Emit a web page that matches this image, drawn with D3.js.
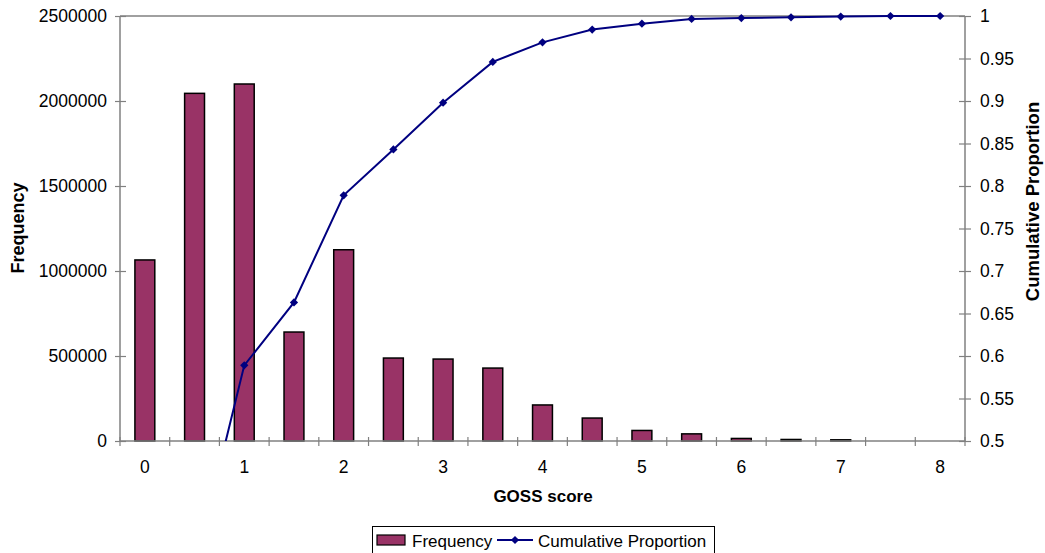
<!DOCTYPE html>
<html>
<head>
<meta charset="utf-8">
<script src="https://cdn.jsdelivr.net/npm/d3@7/dist/d3.min.js"></script>
<style>
  html, body { margin: 0; padding: 0; background: #fff; }
  svg { display: block; font-family: "Liberation Sans", Arial, Helvetica, sans-serif; }
</style>
</head>
<body>
<svg id="chart" width="1045" height="553"></svg>
<script>
// GOSS score categories (half-point steps)
const categories = [0, 0.5, 1, 1.5, 2, 2.5, 3, 3.5, 4, 4.5, 5, 5.5, 6, 6.5, 7, 7.5, 8];
// Number of cases at each score
const frequency = [1065000, 2045000, 2100000, 641000, 1125000, 488000, 482000, 429000,
                   212000, 135000, 62000, 42000, 15000, 9000, 7000, 0, 0];
// Cumulative proportion of cases up to each score
const cumulative = [0.12, 0.35, 0.589, 0.663, 0.789, 0.843, 0.898, 0.946,
                    0.969, 0.984, 0.991, 0.9965, 0.9976, 0.9985, 0.9993, 1.0, 1.0];
// Axis tick labels
const freqTicks = [0, 500000, 1000000, 1500000, 2000000, 2500000];
const propTicks = [0.5, 0.55, 0.6, 0.65, 0.7, 0.75, 0.8, 0.85, 0.9, 0.95, 1];
const xLabelCats = [0, 1, 2, 3, 4, 5, 6, 7, 8];

const svg = d3.select("#chart");
const plotLeft = 120, plotRight = 965, plotTop = 16, plotBottom = 441;
const axisColor = "#808080";
const barColor = "#993366";
const lineColor = "#000080";
const tickFont = 17.5;

const x = d3.scaleBand()
  .domain(categories)
  .range([plotLeft, plotRight])
  .paddingInner(0.6)
  .paddingOuter(0.3);
const yL = d3.scaleLinear().domain([0, 2500000]).range([plotBottom, plotTop]);
const yR = d3.scaleLinear().domain([0.5, 1]).range([plotBottom, plotTop]);

svg.append("rect").attr("width", 1045).attr("height", 553).attr("fill", "#fff");

// Bars
svg.append("g").selectAll("rect")
  .data(categories)
  .join("rect")
  .attr("x", (c) => x(c))
  .attr("width", x.bandwidth())
  .attr("y", (c, i) => yL(frequency[i]))
  .attr("height", (c, i) => plotBottom - yL(frequency[i]))
  .attr("fill", barColor)
  .attr("stroke", "#000")
  .attr("stroke-width", 1.5);

// Plot frame top edge
svg.append("line")
  .attr("x1", plotLeft).attr("x2", plotRight).attr("y1", plotTop).attr("y2", plotTop)
  .attr("stroke", axisColor).attr("stroke-width", 1.5);

// Left axis
const gL = svg.append("g").attr("transform", `translate(${plotLeft},0)`)
  .call(d3.axisLeft(yL).tickValues(freqTicks).tickFormat(d3.format("d")).tickSize(5).tickPadding(8));
gL.selectAll(".tick line").attr("x1", 6);
gL.select(".domain").attr("d", `M0,${plotTop}V${plotBottom}`);

// Right axis
const gR = svg.append("g").attr("transform", `translate(${plotRight},0)`)
  .call(d3.axisRight(yR).tickValues(propTicks).tickFormat(d3.format("~g")).tickSize(6).tickPadding(9));
gR.selectAll(".tick line").attr("x1", -6);
gR.select(".domain").attr("d", `M0,${plotTop}V${plotBottom}`);

// Bottom axis: tick marks between categories, labels at whole scores
const gB = svg.append("g").attr("transform", `translate(0,${plotBottom})`)
  .call(d3.axisBottom(x).tickValues(xLabelCats).tickSize(0).tickPadding(20).tickFormat(d3.format("d")));
gB.select(".domain").attr("d", `M${plotLeft},0H${plotRight}`);
const step = x.step();
gB.selectAll("line.boundary")
  .data(d3.range(categories.length + 1))
  .join("line")
  .attr("class", "boundary")
  .attr("x1", (i) => plotLeft + i * step).attr("x2", (i) => plotLeft + i * step)
  .attr("y1", -4).attr("y2", 5);

[gL, gR, gB].forEach((g) => {
  g.attr("font-size", tickFont).attr("font-family", null);
  g.selectAll(".domain").attr("stroke", axisColor).attr("stroke-width", 1.5);
  g.selectAll("line").attr("stroke", axisColor).attr("stroke-width", 1.2);
  g.selectAll("text").attr("fill", "#000");
});

// Cumulative line, clipped at the bottom of the right axis
svg.append("clipPath").attr("id", "plotClip")
  .append("rect").attr("x", plotLeft).attr("y", 0).attr("width", plotRight - plotLeft).attr("height", plotBottom);
const cx = (c) => x(c) + x.bandwidth() / 2;
const gLine = svg.append("g").attr("clip-path", "url(#plotClip)");
gLine.append("path")
  .datum(categories)
  .attr("fill", "none")
  .attr("stroke", lineColor)
  .attr("stroke-width", 2)
  .attr("d", d3.line().x((c) => cx(c)).y((c, i) => yR(cumulative[i])));
const diamond = d3.symbol().type(d3.symbolSquare).size(34)();
gLine.selectAll("path.marker")
  .data(categories)
  .join("path")
  .attr("class", "marker")
  .attr("d", diamond)
  .attr("transform", (c, i) => `translate(${cx(c)},${yR(cumulative[i])}) rotate(45)`)
  .attr("fill", lineColor);

// Axis titles
svg.append("text")
  .attr("transform", `translate(24,${(183 + 273) / 2}) rotate(-90)`)
  .attr("text-anchor", "middle")
  .attr("font-weight", "bold").attr("font-size", 18)
  .text("Frequency");
svg.append("text")
  .attr("transform", `translate(1039,${(100 + 303) / 2}) rotate(-90)`)
  .attr("text-anchor", "middle")
  .attr("font-weight", "bold").attr("font-size", 18.5)
  .text("Cumulative Proportion");
svg.append("text")
  .attr("x", 543).attr("y", 502)
  .attr("text-anchor", "middle")
  .attr("font-weight", "bold").attr("font-size", 17)
  .text("GOSS score");

// Legend
const lg = svg.append("g");
lg.append("rect")
  .attr("x", 372.5).attr("y", 526.5).attr("width", 342).attr("height", 40)
  .attr("fill", "#fff").attr("stroke", "#000").attr("stroke-width", 1);
lg.append("rect")
  .attr("x", 377).attr("y", 535).attr("width", 28).attr("height", 10)
  .attr("fill", barColor).attr("stroke", "#000").attr("stroke-width", 1.2);
lg.append("text").attr("x", 412).attr("y", 546.5).attr("font-size", 17).text("Frequency");
lg.append("line")
  .attr("x1", 497).attr("x2", 533).attr("y1", 540).attr("y2", 540)
  .attr("stroke", lineColor).attr("stroke-width", 2);
lg.append("path").attr("d", diamond)
  .attr("transform", "translate(515,540) rotate(45)").attr("fill", lineColor);
lg.append("text").attr("x", 538).attr("y", 546.5).attr("font-size", 17).text("Cumulative Proportion");
</script>
</body>
</html>
